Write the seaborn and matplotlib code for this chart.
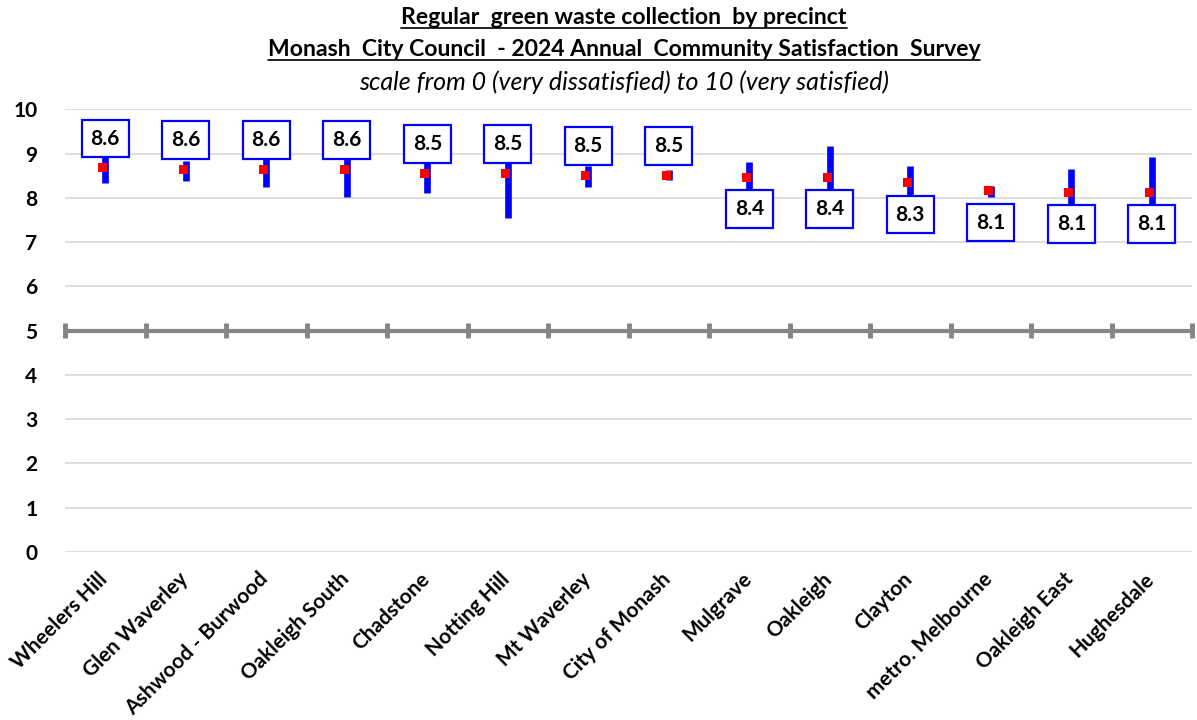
import matplotlib
matplotlib.use("Agg")
import matplotlib.pyplot as plt
import matplotlib.transforms as mtransforms
import seaborn as sns
import pandas as pd
from matplotlib.lines import Line2D

# ---- data ----
categories = ["Wheelers Hill", "Glen Waverley", "Ashwood - Burwood", "Oakleigh South",
              "Chadstone", "Notting Hill", "Mt Waverley", "City of Monash", "Mulgrave",
              "Oakleigh", "Clayton", "metro. Melbourne", "Oakleigh East", "Hughesdale"]
means = [8.68, 8.65, 8.65, 8.65, 8.56, 8.56, 8.51, 8.51, 8.47, 8.47, 8.34, 8.16, 8.13, 8.13]
ci_low = [8.33, 8.37, 8.24, 8.01, 8.11, 7.55, 8.24, 8.40, 8.14, 7.76, 7.97, 8.02, 7.60, 7.34]
ci_high = [9.03, 8.83, 9.06, 9.29, 9.00, 9.57, 8.71, 8.62, 8.80, 9.18, 8.71, 8.27, 8.66, 8.92]
labels = ["8.6", "8.6", "8.6", "8.6", "8.5", "8.5", "8.5", "8.5",
          "8.4", "8.4", "8.3", "8.1", "8.1", "8.1"]
label_above = [True] * 8 + [False] * 6
yticks = list(range(0, 11))
title_lines = ["Regular  green waste collection  by precinct",
               "Monash  City Council  - 2024 Annual  Community Satisfaction  Survey"]
subtitle = "scale from 0 (very dissatisfied) to 10 (very satisfied)"

sns.set_theme(style="white")
plt.rcParams["font.family"] = ["Lato", "DejaVu Sans"]

df = pd.DataFrame({"precinct": categories, "mean": means})

fig = plt.figure(figsize=(11.97, 7.2), dpi=100)
ax = fig.add_axes([65 / 1197, 1 - 552 / 720, (1192 - 65) / 1197, (552 - 109.3) / 720])

ax.set_xlim(-0.5, len(categories) - 0.5)
ax.set_ylim(0, 10)

# gridlines
ax.set_yticks(yticks)
ax.yaxis.grid(True, color="#d4d4d4", lw=1.1)
ax.xaxis.grid(False)
ax.set_axisbelow(True)

# the heavy line at 5 with division marks
pos = list(range(len(categories)))
ax.hlines(5, -0.5, len(categories) - 0.5, color="#858585", lw=3, zorder=2)
ax.vlines([p - 0.5 for p in pos] + [len(categories) - 0.5], 5 - 0.165, 5 + 0.165,
          color="#858585", lw=3.5, zorder=2, clip_on=False)

# error bars
ax.vlines(pos, ci_low, ci_high, color="#0000FF", lw=4.8, zorder=3)

# means (drawn slightly left of the bar centre, as in the original)
sns.scatterplot(data=df, x="precinct", y="mean", marker="s", color="#FF0000",
                s=42, edgecolor="none", zorder=4, ax=ax, legend=False)
shift = mtransforms.ScaledTranslation(-2.5 / 100, 0, fig.dpi_scale_trans)
for coll in ax.collections[-1:]:
    coll.set_transform(coll.get_transform() + shift)

# value boxes
for i, (m, lab, up) in enumerate(zip(means, labels, label_above)):
    ax.annotate(lab, xy=(i, m), xytext=(0, 21 if up else -23), textcoords="offset points",
                ha="center", va="center", fontsize=15, fontweight="bold", color="black",
                bbox=dict(boxstyle="square,pad=0.42", fc="white", ec="#0000FF", lw=1.6),
                zorder=5, annotation_clip=False)

ax.set_xlabel("")
ax.set_ylabel("")
ax.set_xticks(pos)
ax.set_xticklabels(categories, rotation=45, ha="right", rotation_mode="anchor",
                   fontsize=15, fontweight="bold", color="black")
ax.set_yticklabels([str(t) for t in yticks], fontsize=15, fontweight="bold", color="black")
ax.tick_params(axis="x", length=0, pad=10)
ax.tick_params(axis="y", length=0, pad=20)
xoff = mtransforms.ScaledTranslation(-8 / 100, -3 / 100, fig.dpi_scale_trans)
for lbl in ax.get_xticklabels():
    lbl.set_transform(lbl.get_transform() + xoff)
for s in ax.spines.values():
    s.set_visible(False)

# titles
cx = 624 / 1197
t1 = fig.text(cx, 1 - 18 / 720, title_lines[0], ha="center", va="center",
              fontsize=16.6, fontweight="bold", color="black")
t2 = fig.text(cx, 1 - 50 / 720, title_lines[1], ha="center", va="center",
              fontsize=16.6, fontweight="bold", color="black")
t3 = fig.text(cx, 1 - 82 / 720, subtitle, ha="center", va="center",
              fontsize=18, fontstyle="italic", color="black")

fig.canvas.draw()
r = fig.canvas.get_renderer()
for t in (t1, t2):
    bb = t.get_window_extent(renderer=r)
    y = (bb.y0 + 1) / fig.bbox.height
    fig.add_artist(Line2D([bb.x0 / fig.bbox.width, bb.x1 / fig.bbox.width], [y, y],
                          transform=fig.transFigure, color="black", lw=1.2))

fig.savefig("out.png", dpi=100, facecolor="white")
